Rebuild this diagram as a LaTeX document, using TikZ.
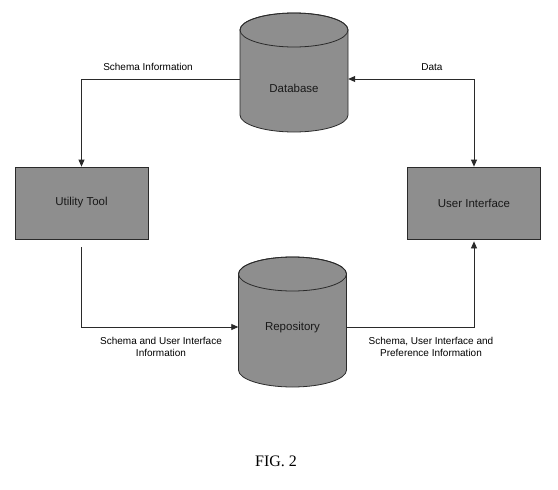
\documentclass[tikz,border=0pt]{standalone}
\usepackage{fontspec}
\setmainfont{Liberation Serif}
\setsansfont{Liberation Sans}
\usetikzlibrary{arrows.meta}
\definecolor{shade}{HTML}{8E8E8E}
\definecolor{edge}{HTML}{2A2A2A}
\tikzset{
  conn/.style={draw=edge, line width=0.8pt},
  arr/.style={conn, -{Triangle[length=7pt,width=6pt]}},
  biarr/.style={conn, {Triangle[length=7pt,width=6pt]}-{Triangle[length=7pt,width=6pt]}},
  boxnode/.style={rectangle, draw=edge, fill=shade, line width=0.8pt, minimum width=133pt, minimum height=72pt, inner sep=0pt, font=\sffamily\fontsize{11.5}{13}\selectfont, text=black!90},
  cylanchor/.style={rectangle, inner sep=0pt, minimum width=108pt, minimum height=#1},
  cylbody/.style={fill=shade, draw=edge, line width=0.8pt},
  lbl/.style={font=\sffamily\fontsize{10}{12}\selectfont, align=center, inner sep=0pt},
  intext/.style={font=\sffamily\fontsize{11.5}{13}\selectfont, inner sep=0pt, text=black!90}
}
\begin{document}
\begin{tikzpicture}[x=1pt,y=-1pt]
\useasboundingbox[fill=white] (0,0) rectangle (558,490);

% Database cylinder (x 240-348, y 13-132)
\path[cylbody] (240,30) -- (240,115) arc[start angle=180,end angle=360,x radius=54pt,y radius=17pt] -- (348,30) arc[start angle=0,end angle=180,x radius=54pt,y radius=17pt] -- cycle;
\draw[draw=edge, line width=0.8pt] (294,30) ellipse[x radius=54pt,y radius=17pt];
\node[cylanchor=119pt] (db) at (294,72.5) {};
\node[intext] (dbt) at (294,88) {Database};

% Repository cylinder (x 238-347, y 257-387)
\path[cylbody] (238.5,274) -- (238.5,370) arc[start angle=180,end angle=360,x radius=54pt,y radius=17pt] -- (346.5,274) arc[start angle=0,end angle=180,x radius=54pt,y radius=17pt] -- cycle;
\draw[draw=edge, line width=0.8pt] (292.5,274) ellipse[x radius=54pt,y radius=17pt];
\node[cylanchor=130pt] (repo) at (292.5,322) {};
\node[intext] (repot) at (292.5,328) {Repository};

% Boxes
\node[boxnode] (ut) at (81.5,203) {Utility Tool};
\node[boxnode] (ui) at (474,203) {User Interface};

% Connectors
\draw[arr] ([yshift=-6.5pt]db.west) -| (ut.north);
\draw[biarr] ([yshift=-6.5pt]db.east) -| (ui.north);
\draw[arr] ([yshift=-8pt]ut.south) |- ([yshift=-5pt]repo.west);
\draw[arr] ([yshift=-5pt]repo.east) -| ([yshift=-2pt]ui.south);

% Labels
\node[lbl] (l1) at (148,67) {Schema Information};
\node[lbl] (l2) at (432,67) {Data};
\node[lbl] (l3) at (161,347) {Schema and User Interface\\Information};
\node[lbl] (l4) at (431,347) {Schema, User Interface and\\Preference Information};

\node[font=\fontsize{16}{18}\selectfont, inner sep=0pt] (fig) at (276,461) {FIG. 2};
\end{tikzpicture}
\end{document}
